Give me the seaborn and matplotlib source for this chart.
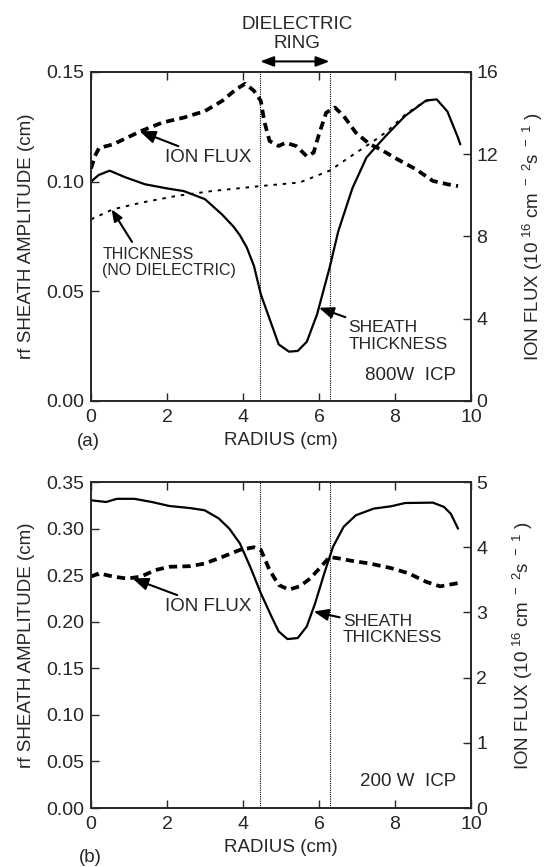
import numpy as np
import pandas as pd
import matplotlib
matplotlib.use("Agg")
import matplotlib.pyplot as plt
import seaborn as sns

# (a) 800 W ICP
radius_sheath_a = [0.0, 0.2, 0.49, 0.9, 1.42, 1.97, 2.44, 3.0, 3.45, 3.75, 3.92, 4.1,
                   4.29, 4.47, 4.75, 4.94, 5.21, 5.44, 5.68, 5.95, 6.28, 6.51, 6.88,
                   7.25, 7.48, 7.8, 8.27, 8.82, 9.1, 9.38, 9.66, 9.72]
sheath_a = [0.100, 0.103, 0.105, 0.102, 0.0988, 0.097, 0.0957, 0.092, 0.085, 0.0795,
            0.0755, 0.0700, 0.0615, 0.0486, 0.035, 0.0258, 0.0225, 0.0228, 0.027,
            0.0395, 0.0608, 0.0775, 0.097, 0.111, 0.1155, 0.1216, 0.130, 0.137,
            0.1375, 0.132, 0.120, 0.117]

radius_nodiel_a = [0.0, 0.58, 1.32, 2.25, 3.18, 4.47, 5.49, 6.28, 6.79, 7.44, 7.8,
                   8.27, 8.6, 8.92]
nodiel_a = [0.0828, 0.0874, 0.0904, 0.0935, 0.0957, 0.098, 0.0996, 0.105, 0.111,
            0.1185, 0.123, 0.1305, 0.1345, 0.1375]

radius_flux_a = [0.0, 0.1, 0.21, 0.58, 1.32, 1.88, 2.44, 3.0, 3.45, 3.82, 4.06, 4.29,
                 4.47, 4.56, 4.7, 4.94, 5.12, 5.4, 5.68, 5.86, 6.0, 6.19, 6.42, 6.65,
                 6.97, 7.34, 7.62, 7.99, 8.55, 9.0, 9.38, 9.66]
flux_a = [11.3, 11.9, 12.3, 12.48, 13.13, 13.54, 13.78, 14.1, 14.59, 15.16, 15.43,
          15.08, 14.59, 13.6, 12.64, 12.4, 12.56, 12.4, 11.9, 12.08, 12.97, 14.02,
          14.27, 13.86, 13.05, 12.48, 12.24, 11.83, 11.27, 10.7, 10.54, 10.45]

# (b) 200 W ICP
radius_sheath_b = [0.0, 0.4, 0.68, 1.14, 1.6, 2.06, 2.62, 2.99, 3.36, 3.64, 3.92, 4.19,
                   4.47, 4.75, 4.94, 5.17, 5.44, 5.68, 5.9, 6.14, 6.37, 6.65, 6.97,
                   7.44, 7.9, 8.27, 9.0, 9.29, 9.47, 9.66]
sheath_b = [0.3304, 0.3286, 0.332, 0.332, 0.3286, 0.3243, 0.322, 0.3197, 0.311, 0.300,
            0.284, 0.259, 0.2306, 0.2056, 0.1896, 0.1814, 0.1825, 0.195, 0.220, 0.252,
            0.2805, 0.302, 0.3143, 0.3215, 0.324, 0.3275, 0.3279, 0.3233, 0.316, 0.300]

radius_flux_b = [0.0, 0.21, 0.58, 0.95, 1.32, 1.69, 2.06, 2.62, 2.99, 3.45, 3.92, 4.29,
                 4.47, 4.7, 4.94, 5.21, 5.49, 5.77, 6.05, 6.28, 6.51, 6.88, 7.34, 7.9,
                 8.36, 8.82, 9.19, 9.66]
flux_b = [3.55, 3.6, 3.55, 3.52, 3.55, 3.65, 3.70, 3.71, 3.75, 3.85, 3.96, 4.0, 3.96,
          3.65, 3.42, 3.35, 3.40, 3.52, 3.70, 3.85, 3.83, 3.79, 3.75, 3.68, 3.6, 3.47,
          3.40, 3.45]

ring_edges = [4.45, 6.28]

sns.set_style("ticks")
plt.rcParams['font.family'] = ['Liberation Sans', 'DejaVu Sans']
plt.rcParams['mathtext.fontset'] = 'custom'
plt.rcParams['mathtext.rm'] = 'Liberation Sans'
plt.rcParams['axes.linewidth'] = 1.2

fs_tick = 14
fs_lab = 13.5
heavy_dash = (0, (2.2, 1.4))
thin_dash = (0, (1.8, 3.0))
arrow = dict(arrowstyle="-|>,head_length=0.7,head_width=0.28", color="black", lw=1.5,
             shrinkA=0, shrinkB=0)

fig = plt.figure(figsize=(5.53, 8.67), dpi=100)
ax_a = fig.add_axes([0.1646, 0.5375, 0.687, 0.3795])
ax_b = fig.add_axes([0.1646, 0.068, 0.687, 0.376])


def style_axes(ax, ax2, ylim, yticks, flux_lim, flux_ticks):
    ax.set_xlim(0, 10)
    ax.set_ylim(*ylim)
    ax.set_xticks(range(0, 11, 2))
    ax.set_yticks(yticks)
    ax.set_yticklabels([f"{t:.2f}" for t in yticks])
    ax2.set_ylim(*flux_lim)
    ax2.set_yticks(flux_ticks)
    ax.tick_params(direction="in", top=True, length=6, width=1.0, labelsize=fs_tick, pad=6)
    ax.tick_params(axis="y", right=False, pad=5)
    ax2.tick_params(direction="in", length=6, width=1.0, labelsize=fs_tick, pad=4)
    ax.set_xlabel("RADIUS (cm)", fontsize=fs_lab, labelpad=4)
    ax.set_ylabel("rf SHEATH AMPLITUDE (cm)", fontsize=fs_lab, labelpad=8)
    ax2.set_ylabel(r"ION FLUX (10$^{\ 16}$ cm$^{\ -\ 2}$s$^{\ -\ 1}$ )", fontsize=fs_lab,
                   labelpad=16)
    for x in ring_edges:
        ax.axvline(x, color="black", lw=0.8, ls=(0, (1, 1)))


# ---- panel (a)
ax_a2 = ax_a.twinx()
sns.lineplot(x=radius_sheath_a, y=sheath_a, ax=ax_a, color="black", lw=1.6, sort=False,
             estimator=None)
sns.lineplot(x=radius_nodiel_a, y=nodiel_a, ax=ax_a, color="black", lw=1.4,
             linestyle=thin_dash, sort=False, estimator=None)
sns.lineplot(x=radius_flux_a, y=flux_a, ax=ax_a2, color="black", lw=2.7,
             linestyle=heavy_dash, sort=False, estimator=None)
style_axes(ax_a, ax_a2, (0, 0.15), [0.0, 0.05, 0.10, 0.15], (0, 16), [0, 4, 8, 12, 16])

ax_a.annotate("ION FLUX", xy=(1.28, 0.123), xytext=(1.96, 0.1108), fontsize=13.5,
              va="center", ha="left", arrowprops=arrow)
ax_a.annotate("", xy=(0.54, 0.0874), xytext=(1.08, 0.0725), arrowprops=arrow)
ax_a.text(0.3, 0.0631, "THICKNESS\n(NO DIELECTRIC)", fontsize=11.5, va="center",
          ha="left", linespacing=1.1)
ax_a.annotate("SHEATH\nTHICKNESS", xy=(6.0, 0.0425), xytext=(6.78, 0.0296), fontsize=12.5,
              va="center", ha="left", linespacing=1.1, arrowprops=arrow)
ax_a.text(9.62, 0.0115, "800W  ICP", fontsize=13.5, ha="right", va="center")

ax_a.annotate("", xy=(ring_edges[0], 1.032), xytext=(ring_edges[1], 1.032),
              xycoords=("data", "axes fraction"), textcoords=("data", "axes fraction"),
              arrowprops=dict(arrowstyle="<|-|>,head_length=0.8,head_width=0.3",
                              color="black", lw=1.5, shrinkA=0, shrinkB=0),
              annotation_clip=False)
ax_a.text(5.42, 1.06, "DIELECTRIC\nRING", transform=ax_a.get_xaxis_transform(),
          fontsize=13.5, ha="center", va="bottom", linespacing=1.15)

# ---- panel (b)
ax_b2 = ax_b.twinx()
sns.lineplot(x=radius_sheath_b, y=sheath_b, ax=ax_b, color="black", lw=1.6, sort=False,
             estimator=None)
sns.lineplot(x=radius_flux_b, y=flux_b, ax=ax_b2, color="black", lw=2.7,
             linestyle=heavy_dash, sort=False, estimator=None)
style_axes(ax_b, ax_b2, (0, 0.35), [0.0, 0.05, 0.10, 0.15, 0.20, 0.25, 0.30, 0.35],
           (0, 5), [0, 1, 2, 3, 4, 5])

ax_b.annotate("ION FLUX", xy=(1.09, 0.2466), xytext=(1.96, 0.216), fontsize=13.5,
              va="center", ha="left", arrowprops=arrow)
ax_b.annotate("SHEATH\nTHICKNESS", xy=(5.86, 0.211), xytext=(6.63, 0.192), fontsize=12.5,
              va="center", ha="left", linespacing=1.1, arrowprops=arrow)
ax_b.text(9.62, 0.0285, "200 W  ICP", fontsize=13.5, ha="right", va="center")

fig.text(0.159, 1 - 441 / 867, "(a)", fontsize=fs_lab, ha="center", va="center")
fig.text(0.163, 1 - 857 / 867, "(b)", fontsize=fs_lab, ha="center", va="center")

fig.savefig("out.png", dpi=100)
